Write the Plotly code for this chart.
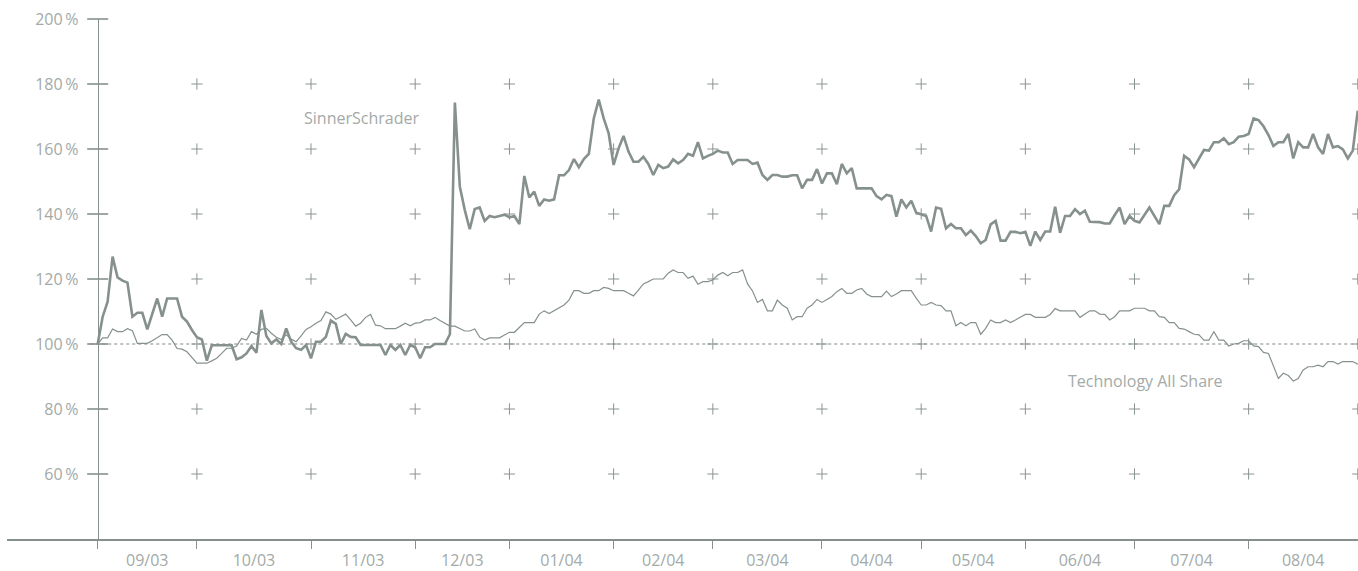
import plotly.graph_objects as go

# ---------------- data ----------------
# trading-day index 0..254 (Sep 2003 - Aug 2004), values in % of start
sinner = [
    100, 108.4, 113, 126.9, 120.5, 119.5, 118.9, 108.4, 109.6, 109.6,
    104.5, 109.3, 114, 108.4, 114, 114, 114, 108.4, 106.9, 104.3,
    102.1, 101.4, 94.9, 99.6, 99.6, 99.6, 99.6, 99.6, 95.3, 95.9,
    97.1, 99.4, 97.3, 110.5, 102.5, 100.2, 101.4, 100, 104.8, 100.7,
    98.7, 98.2, 99.7, 95.6, 100.7, 100.7, 102.2, 107.2, 106.2, 100,
    103.1, 102.2, 102.1, 99.7, 99.7, 99.7, 99.7, 99.7, 96.6, 99.7,
    98.2, 99.7, 96.6, 99.7, 99, 95.6, 99, 99, 100, 100,
    100, 103, 174.3, 148.4, 141.2, 135.3, 141.5, 142, 137.9, 139.4,
    139, 139.4, 139.8, 139, 139.4, 136.9, 151.7, 145.1, 146.9, 142.5,
    144.5, 144.1, 144.5, 151.9, 151.9, 153.5, 156.9, 154.4, 156.9, 158.5,
    169.4, 175.2, 169.4, 164.8, 155.1, 160.2, 164, 159.2, 156.1, 156.1,
    157.6, 155.4, 152, 155.1, 154.1, 154.6, 156.8, 155.6, 156.6, 158.5,
    157.9, 162.1, 157.1, 157.9, 158.5, 159.5, 158.9, 158.9, 155.4, 156.6,
    156.6, 156.6, 155.4, 155.8, 152, 150.5, 152, 152, 151.5, 151.5,
    151.9, 151.9, 147.9, 150.5, 150.5, 153.8, 149.4, 152.5, 152.5, 149.2,
    155.4, 152.5, 154.1, 147.9, 147.9, 147.9, 147.9, 145.5, 144.5, 145.9,
    145.5, 139.2, 144.5, 142, 144.1, 140.4, 140, 139.4, 134.6, 142,
    141.6, 135.6, 136.9, 135.6, 135.6, 133.5, 134.9, 133.2, 131, 132,
    136.8, 137.9, 131.8, 131.8, 134.5, 134.5, 134.1, 134.5, 130.2, 134.6,
    132, 134.6, 134.6, 142.2, 134.2, 139.4, 139.4, 141.5, 140, 141,
    137.6, 137.6, 137.5, 137.1, 137.1, 139.7, 142, 136.9, 139.4, 137.9,
    137.4, 139.7, 142, 139.4, 136.9, 142.5, 142.5, 145.8, 147.6, 157.9,
    156.8, 154.4, 157.1, 159.7, 159.5, 162.1, 162.1, 163.3, 161.5, 162.1,
    163.8, 164, 164.6, 169.4, 168.9, 167, 164.3, 160.9, 162.1, 162.1,
    164.6, 157.1, 162.1, 160.5, 160.5, 164.6, 160.5, 158.5, 164.6, 160.5,
    160.9, 159.9, 157.1, 159.5, 171.8,
]

tech = [
    100, 101.9, 101.9, 104.6, 103.8, 103.8, 104.7, 104.1, 100.2, 100.2,
    100.2, 101, 102, 102.9, 102.9, 101.2, 98.6, 98.4, 97.6, 95.9,
    94.1, 94.1, 94.1, 94.8, 95.6, 97.1, 98.7, 98.7, 99.4, 101.7,
    101.2, 103.8, 103, 104.5, 104.8, 103.3, 102.1, 101.4, 102.8, 101.5,
    100.7, 102.5, 104.5, 105.3, 106.4, 107.2, 109.9, 109.2, 107.6, 108.4,
    109.2, 107.4, 105.5, 106.4, 108.2, 109.1, 105.8, 105.6, 104.7, 104.7,
    104.7, 105.5, 106.4, 105.6, 106.4, 106.6, 107.4, 107.4, 108.2, 107.2,
    106.4, 105.5, 105.5, 104.8, 104, 104, 104.6, 102.1, 101.2, 101.9,
    101.9, 101.9, 102.8, 103.6, 103.6, 105.1, 106.6, 106.6, 106.6, 109.2,
    110.2, 109.4, 110.2, 111.2, 112, 113.5, 116.4, 116.4, 115.6, 115.6,
    116.4, 116.4, 117.4, 117.1, 116.4, 116.4, 116.4, 115.6, 114.8, 116.6,
    118.5, 119.2, 120, 120, 120, 121.8, 122.8, 122, 122, 120.2,
    120.9, 118.4, 119.2, 119.2, 119.7, 121.2, 122, 121, 122, 122,
    122.8, 118.5, 116.3, 112.8, 113.7, 110.2, 110.2, 113.5, 112, 111,
    107.4, 108.4, 108.4, 111, 112, 113.7, 112.8, 113.7, 114.6, 116.1,
    117.1, 115.6, 115.6, 116.6, 117.1, 115.4, 114.6, 114.6, 114.6, 116.3,
    114.6, 115.4, 116.4, 116.4, 116.4, 114.1, 112, 112, 112.8, 112,
    111.8, 110.2, 110.2, 105.6, 106.6, 105.6, 106.6, 106.6, 103, 104.8,
    107.4, 106.6, 106.6, 107.4, 106.6, 107.4, 108.2, 109.1, 109.1, 108.2,
    108.2, 108.2, 109.1, 110.9, 110.2, 110.2, 110.2, 110.2, 108.2, 109.1,
    110.2, 110.2, 109.2, 109.1, 107.4, 108.4, 110.2, 110.2, 110.2, 111,
    111, 111, 110.2, 110.2, 108.4, 108.2, 106.6, 106.6, 104.8, 104.6,
    103.8, 103, 102.8, 101.2, 101.2, 103.8, 101.2, 101.2, 99.4, 100,
    100.2, 101, 101, 99.4, 99.2, 97.4, 97.1, 93.5, 89.4, 91,
    90.3, 88.6, 89.4, 92, 93, 93, 93.5, 93, 94.6, 94.6,
    93.8, 94.6, 94.6, 94.6, 93.8,
]

month_starts = [0, 20, 43, 64, 83, 104, 124, 146, 166, 187, 209, 232, 254]
month_labels = ["09/03", "10/03", "11/03", "12/03", "01/04", "02/04",
                "03/04", "04/04", "05/04", "06/04", "07/04", "08/04"]
y_ticks = [60, 80, 100, 120, 140, 160, 180, 200]
grid_levels = [60, 80, 100, 120, 140, 160, 180]
series_names = ["SinnerSchrader", "Technology All Share"]

# ---------------- styling ----------------
LINE = "#86918c"
GRID = "#8a948f"
TEXT = "#a3aaa7"
FONT = "Open Sans"

days = list(range(len(sinner)))
label_pos = [(a + b) / 2 for a, b in zip(month_starts[:-1], month_starts[1:])]

fig = go.Figure()

# grid crosses at month boundaries
gx, gy = [], []
for m in month_starts[1:]:
    for lv in grid_levels:
        gx.append(m)
        gy.append(lv)
fig.add_trace(go.Scatter(
    x=gx, y=gy, mode="markers", hoverinfo="skip", showlegend=False,
    marker=dict(symbol="cross-thin", size=8, line=dict(width=1, color=GRID), color=GRID),
))

# y-axis crossing tick marks
fig.add_trace(go.Scatter(
    x=[0] * len(y_ticks), y=y_ticks, mode="markers", hoverinfo="skip",
    showlegend=False, cliponaxis=False,
    marker=dict(symbol="line-ew", size=15, line=dict(width=1.6, color=LINE), color=LINE),
))

fig.add_trace(go.Scatter(
    x=days, y=tech, mode="lines", name=series_names[1], showlegend=False,
    line=dict(color=LINE, width=1.2),
))
fig.add_trace(go.Scatter(
    x=days, y=sinner, mode="lines", name=series_names[0], showlegend=False,
    line=dict(color=LINE, width=2.6),
))

# dotted 100 % reference line
fig.add_shape(type="line", xref="x", yref="y", x0=-1.5, x1=260, y0=100, y1=100,
              line=dict(color="#a9b0ad", width=1.5, dash="dot"), layer="below")

fig.add_annotation(x=65.2, y=169.5, text=series_names[0], showarrow=False,
                   xanchor="right", yanchor="middle",
                   font=dict(family=FONT, size=16, color=TEXT))
fig.add_annotation(x=227.2, y=88.6, text=series_names[1], showarrow=False,
                   xanchor="right", yanchor="middle",
                   font=dict(family=FONT, size=16, color=TEXT))

x_range = [-18.28, 254.05]

fig.update_layout(
    width=1358, height=571,
    margin=dict(l=7, r=0, t=19, b=32),
    paper_bgcolor="white", plot_bgcolor="white",
    showlegend=False,
    font=dict(family=FONT, size=16, color=TEXT),
    xaxis=dict(
        range=x_range, showgrid=False, zeroline=False,
        showline=True, linecolor=LINE, linewidth=2,
        tickmode="array", tickvals=month_starts[:-1], showticklabels=False,
        ticks="outside", ticklen=8, tickwidth=1, tickcolor=LINE,
    ),
    xaxis2=dict(
        range=x_range, overlaying="x", anchor="y", side="bottom",
        showgrid=False, zeroline=False, showline=False,
        tickmode="array", tickvals=label_pos, ticktext=month_labels,
        ticks="", ticklabelstandoff=10,
        tickfont=dict(family=FONT, size=16, color=TEXT),
    ),
    yaxis=dict(
        range=[40, 200], anchor="free", position=90.7 / 1351,
        showgrid=False, zeroline=False,
        showline=True, linecolor=LINE, linewidth=1,
        tickmode="array", tickvals=y_ticks,
        ticktext=[f"{v}\u2009%" for v in y_ticks],
        ticks="", ticklabelstandoff=16,
        tickfont=dict(family=FONT, size=16, color=TEXT),
    ),
)

# make xaxis2 exist with an (invisible) trace
fig.add_trace(go.Scatter(x=[x_range[0]], y=[None], xaxis="x2", yaxis="y",
                         mode="markers", showlegend=False, hoverinfo="skip"))

fig.write_html("out.html")
